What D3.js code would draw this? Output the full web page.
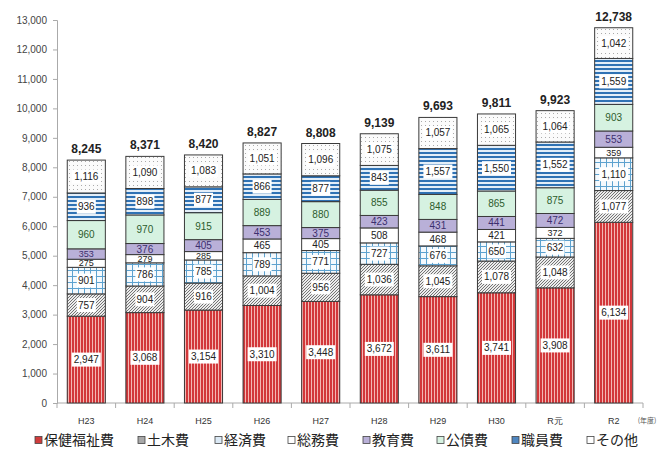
<!DOCTYPE html>
<html>
<head>
<meta charset="utf-8">
<script src="https://cdn.jsdelivr.net/npm/d3@7"></script>
<style>
  body { margin: 0; background: #fff; }
  text { font-family: "Liberation Sans Narrow", "Liberation Sans", Arial, sans-serif; }
  .legend text { font-family: "Noto Sans CJK JP", sans-serif; }
</style>
</head>
<body>
<script>
const width = 659;
const height = 457;
const margin = { top: 20, right: 16, bottom: 54, left: 57 };

const years = ['H23', 'H24', 'H25', 'H26', 'H27', 'H28', 'H29', 'H30', 'R元', 'R2'];
const seriesNames = ['保健福祉費', '土木費', '経済費', '総務費', '教育費', '公債費', '職員費', 'その他'];

const hoken   = [2947, 3068, 3154, 3310, 3448, 3672, 3611, 3741, 3908, 6134];
const doboku  = [757, 904, 916, 1004, 956, 1036, 1045, 1078, 1048, 1077];
const keizai  = [901, 786, 785, 789, 771, 727, 676, 650, 632, 1110];
const somu    = [275, 279, 285, 465, 405, 508, 468, 421, 372, 359];
const kyoiku  = [353, 376, 405, 453, 375, 423, 431, 441, 472, 553];
const kosai   = [960, 970, 915, 889, 880, 855, 848, 865, 875, 903];
const shokuin = [936, 898, 877, 866, 877, 843, 1557, 1550, 1552, 1559];
const sonota  = [1116, 1090, 1083, 1051, 1096, 1075, 1057, 1065, 1064, 1042];
const totals  = [8245, 8371, 8420, 8827, 8808, 9139, 9693, 9811, 9923, 12738];

const yTicks = d3.range(0, 13001, 1000);

const seriesValues = [hoken, doboku, keizai, somu, kyoiku, kosai, shokuin, sonota];
const fills = ['url(#p-red)', 'url(#p-hatch)', 'url(#p-grid)', '#ffffff', '#b9b0d8', '#d6f2e1', 'url(#p-blue)', 'url(#p-dots)'];
const legendFills = ['#d03c3c', '#a8a8a8', '#dbe9f5', '#ffffff', '#b9b0d8', '#d6f2e1', '#4f86c0', '#ffffff'];
const textColors = ['#222', '#222', '#222', '#222', '#3c2f6e', '#2d5c2d', '#222', '#222'];
const boxed = [true, true, true, false, false, false, true, true];

const table = years.map((y, i) => {
  const row = { year: y };
  seriesNames.forEach((s, j) => row[s] = seriesValues[j][i]);
  return row;
});
const stacked = d3.stack().keys(seriesNames)(table);

const svg = d3.select('body').append('svg')
  .attr('width', width)
  .attr('height', height);

// patterns
const defs = svg.append('defs');
let p = defs.append('pattern').attr('id', 'p-red').attr('patternUnits', 'userSpaceOnUse')
  .attr('width', 3).attr('height', 4);
p.append('rect').attr('width', 3).attr('height', 4).attr('fill', '#f3b6b2');
p.append('rect').attr('width', 2).attr('height', 4).attr('fill', '#d2373a');

p = defs.append('pattern').attr('id', 'p-hatch').attr('patternUnits', 'userSpaceOnUse')
  .attr('width', 3).attr('height', 3);
p.append('rect').attr('width', 3).attr('height', 3).attr('fill', '#ececec');
p.append('path').attr('d', 'M0,3 L3,0 M-1,1 L1,-1 M2,4 L4,2').attr('stroke', '#666').attr('stroke-width', 0.9);

p = defs.append('pattern').attr('id', 'p-grid').attr('patternUnits', 'userSpaceOnUse')
  .attr('width', 6).attr('height', 6);
p.append('rect').attr('width', 6).attr('height', 6).attr('fill', '#f4f9fd');
p.append('path').attr('d', 'M0.5,0 V6 M0,0.5 H6').attr('stroke', '#5da2cf').attr('stroke-width', 1);

p = defs.append('pattern').attr('id', 'p-blue').attr('patternUnits', 'userSpaceOnUse')
  .attr('width', 4).attr('height', 4);
p.append('rect').attr('width', 4).attr('height', 4).attr('fill', '#e3eef8');
p.append('rect').attr('width', 4).attr('height', 2).attr('fill', '#2f72b4');

p = defs.append('pattern').attr('id', 'p-dots').attr('patternUnits', 'userSpaceOnUse')
  .attr('width', 4).attr('height', 4);
p.append('rect').attr('width', 4).attr('height', 4).attr('fill', '#fbfbfb');
p.append('rect').attr('x', 1).attr('y', 1).attr('width', 1).attr('height', 1).attr('fill', '#aaa');

const xScale = d3.scaleBand()
  .domain(years)
  .range([margin.left, width - margin.right])
  .paddingInner(0.35)
  .paddingOuter(0.175);

const yScale = d3.scaleLinear()
  .domain([0, 13000])
  .range([height - margin.bottom, margin.top]);

// y axis
const yAxis = d3.axisLeft(yScale)
  .tickValues(yTicks)
  .tickFormat(d3.format(','))
  .tickSize(4)
  .tickPadding(6);
const gy = svg.append('g')
  .attr('transform', `translate(${margin.left},0)`)
  .call(yAxis);
gy.select('.domain').attr('stroke', '#aaa');
gy.selectAll('.tick line').attr('stroke', '#aaa');
gy.selectAll('.tick text').attr('font-size', 10).attr('fill', '#444');

// x axis
const step = xScale.step();
const gx = svg.append('g')
  .attr('transform', `translate(0,${height - margin.bottom})`);
gx.append('line')
  .attr('x1', margin.left).attr('x2', width - margin.right)
  .attr('stroke', '#aaa');
gx.selectAll('line.tk')
  .data(d3.range(years.length + 1))
  .enter().append('line')
  .attr('class', 'tk')
  .attr('x1', i => margin.left + i * step)
  .attr('x2', i => margin.left + i * step)
  .attr('y2', 5)
  .attr('stroke', '#aaa');
gx.selectAll('text.yr')
  .data(years)
  .enter().append('text')
  .attr('class', 'yr')
  .attr('x', d => xScale(d) + xScale.bandwidth() / 2)
  .attr('y', 21)
  .attr('text-anchor', 'middle')
  .attr('font-size', 9)
  .attr('fill', '#333')
  .text(d => d);
gx.append('text')
  .attr('x', width - 12)
  .attr('y', 20)
  .attr('text-anchor', 'middle')
  .attr('font-size', 7)
  .attr('fill', '#555')
  .style('font-family', '"Noto Sans CJK JP", sans-serif')
  .text('(年度)');

// bars
const layers = svg.selectAll('g.layer')
  .data(stacked)
  .enter().append('g')
  .attr('class', 'layer');

layers.selectAll('rect')
  .data(d => d)
  .enter().append('rect')
  .attr('x', d => xScale(d.data.year))
  .attr('y', d => yScale(d[1]))
  .attr('width', xScale.bandwidth())
  .attr('height', d => yScale(d[0]) - yScale(d[1]))
  .attr('fill', function() { return fills[d3.select(this.parentNode).datum().index]; })
  .attr('stroke', '#3a3a3a')
  .attr('stroke-width', 1);

// segment labels
layers.each(function(layer) {
  const k = layer.index;
  const g = d3.select(this);
  layer.forEach(d => {
    const cx = xScale(d.data.year) + xScale.bandwidth() / 2;
    const cy = (yScale(d[0]) + yScale(d[1])) / 2;
    const label = d3.format(',')(d[1] - d[0]);
    const small = yScale(d[0]) - yScale(d[1]) < 11;
    if (boxed[k]) {
      const w = label.length * 5 + 4;
      g.append('rect')
        .attr('x', cx - w / 2)
        .attr('y', cy - 7)
        .attr('width', w)
        .attr('height', 14)
        .attr('fill', '#fff');
    }
    g.append('text')
      .attr('x', cx)
      .attr('y', cy)
      .attr('dy', '0.35em')
      .attr('text-anchor', 'middle')
      .attr('font-size', small ? 9 : 10)
      .attr('fill', textColors[k])
      .text(label);
  });
});

// totals
svg.selectAll('text.total')
  .data(totals)
  .enter().append('text')
  .attr('class', 'total')
  .attr('x', (d, i) => xScale(years[i]) + xScale.bandwidth() / 2)
  .attr('y', (d, i) => yScale(d3.sum(seriesValues, s => s[i])) - 7)
  .attr('text-anchor', 'middle')
  .attr('font-size', 12)
  .attr('font-weight', 'bold')
  .attr('fill', '#222')
  .text(d => d3.format(',')(d));

// legend
const legendX = [35, 138, 215, 288, 363, 437, 512, 587];
const legend = svg.append('g')
  .attr('class', 'legend')
  .attr('transform', `translate(0,440)`);
const items = legend.selectAll('g')
  .data(seriesNames)
  .enter().append('g')
  .attr('transform', (d, i) => `translate(${legendX[i]},0)`);
items.append('rect')
  .attr('x', 0)
  .attr('y', -3.5)
  .attr('width', 7)
  .attr('height', 7)
  .attr('fill', (d, i) => legendFills[i])
  .attr('stroke', '#444')
  .attr('stroke-width', 0.8);
items.append('text')
  .attr('x', 9)
  .attr('y', 0)
  .attr('dy', '0.36em')
  .attr('font-size', 14)
  .attr('fill', '#222')
  .text(d => d);
</script>
</body>
</html>
